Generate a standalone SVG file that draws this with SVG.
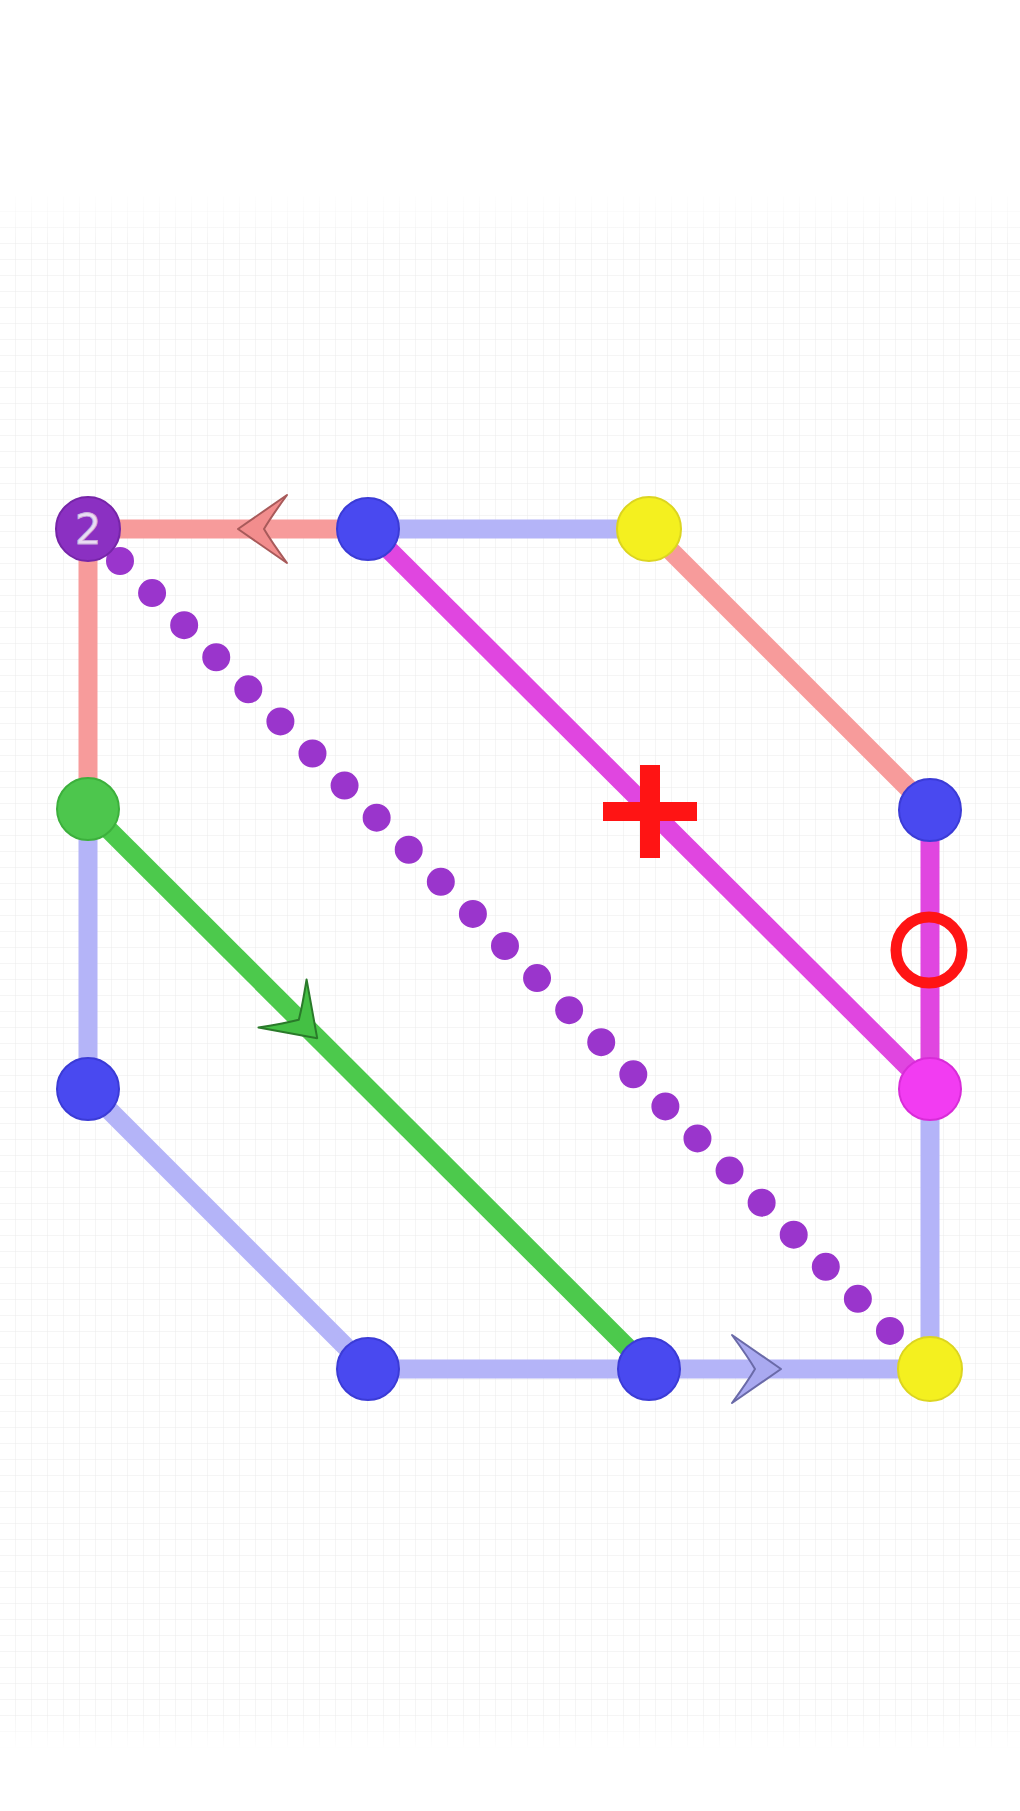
<svg xmlns="http://www.w3.org/2000/svg" width="1020" height="1811" viewBox="0 0 1020 1811">
<style>
.edge{fill:none;stroke-width:19;stroke-linecap:butt}
.pink{stroke:#f79b9b}
.lblue{stroke:#b4b4f8}
.mag{stroke:#e046e0}
.green{stroke:#4cc94c}
.node{stroke-width:2}
.blue{fill:#4949f0;stroke:#3b3bd6}
.yellow{fill:#f4f01f;stroke:#dcd520}
.purple{fill:#8b30c2;stroke:#7625a8}
.gnode{fill:#4dc64d;stroke:#3cb03c}
.mnode{fill:#f23cf2;stroke:#d82cd8}
.mark{fill:#ff1414}
.arrow{stroke-width:2;stroke-linejoin:round}
</style>
<defs>
<pattern id="grid" width="16" height="16" patternUnits="userSpaceOnUse" x="0" y="4">
<path d="M16 0V16M0 16H16" fill="none" stroke="#ebebeb" stroke-width="1"/>
</pattern>
<linearGradient id="fadeTop" x1="0" y1="0" x2="0" y2="1">
<stop offset="0" stop-color="#fff" stop-opacity="1"/>
<stop offset="1" stop-color="#fff" stop-opacity="0"/>
</linearGradient>
<linearGradient id="fadeBot" x1="0" y1="0" x2="0" y2="1">
<stop offset="0" stop-color="#fff" stop-opacity="0"/>
<stop offset="1" stop-color="#fff" stop-opacity="1"/>
</linearGradient>
<path id="dart" d="M25,0 L-24,-34 Q-8,-12 -1,0 Q-8,12 -24,34 Z"/>
</defs>
<rect width="1020" height="1811" fill="#fff"/>
<rect x="0" y="196" width="1020" height="1552" fill="url(#grid)"/>
<rect x="0" y="190" width="1020" height="50" fill="url(#fadeTop)"/>
<rect x="0" y="1715" width="1020" height="35" fill="url(#fadeBot)"/>

<g id="connectors">
<line class="edge pink" x1="88" y1="529" x2="368" y2="529"/>
<line class="edge lblue" x1="368" y1="529" x2="649" y2="529"/>
<line class="edge pink" x1="649" y1="529" x2="930" y2="810"/>
<line class="edge mag" x1="930" y1="810" x2="930" y2="1089"/>
<line class="edge mag" x1="368" y1="529" x2="930" y2="1089"/>
<line class="edge pink" x1="88" y1="529" x2="88" y2="809"/>
<line class="edge lblue" x1="88" y1="809" x2="88" y2="1089"/>
<line class="edge green" x1="88" y1="809" x2="649" y2="1369"/>
<line class="edge lblue" x1="88" y1="1089" x2="368" y2="1369"/>
<line class="edge lblue" x1="368" y1="1369" x2="649" y2="1369"/>
<line class="edge lblue" x1="649" y1="1369" x2="930" y2="1369"/>
<line class="edge lblue" x1="930" y1="1089" x2="930" y2="1369"/>
<line fill="none" stroke="#9a35cc" stroke-width="28" stroke-linecap="round" stroke-dasharray="0 45.37" x1="120" y1="561" x2="890" y2="1331"/>
<use href="#dart" class="arrow" fill="#f28d8d" stroke="#a85a5a" transform="translate(263,529) rotate(180)"/>
<use href="#dart" class="arrow" fill="#a9a9f0" stroke="#6a6aa8" transform="translate(756,1369)"/>
<use href="#dart" class="arrow" fill="#44c044" stroke="#2a7a2a" transform="translate(299.5,1020.5) rotate(45)"/>
</g>

<g id="marks">
<rect class="mark" x="603" y="802" width="94" height="19"/>
<rect class="mark" x="640" y="765" width="20" height="93"/>
<circle cx="929" cy="950" r="33" fill="none" stroke="#ff1414" stroke-width="11"/>
</g>

<g id="n-purple"><circle class="node purple" cx="88" cy="529" r="32"/><text x="88" y="544" text-anchor="middle" font-family="DejaVu Sans, sans-serif" font-size="42" fill="#eadcf4" stroke="#c9b0dc" stroke-width="0.8">2</text></g>
<g id="n-blue-top"><circle class="node blue" cx="368" cy="529" r="31"/></g>
<g id="n-yellow-top"><circle class="node yellow" cx="649" cy="529" r="32"/></g>
<g id="n-green"><circle class="node gnode" cx="88" cy="809" r="31"/></g>
<g id="n-blue-right"><circle class="node blue" cx="930" cy="810" r="31"/></g>
<g id="n-blue-left"><circle class="node blue" cx="88" cy="1089" r="31"/></g>
<g id="n-magenta"><circle class="node mnode" cx="930" cy="1089" r="31"/></g>
<g id="n-blue-bl"><circle class="node blue" cx="368" cy="1369" r="31"/></g>
<g id="n-blue-bm"><circle class="node blue" cx="649" cy="1369" r="31"/></g>
<g id="n-yellow-br"><circle class="node yellow" cx="930" cy="1369" r="32"/></g>
</svg>
